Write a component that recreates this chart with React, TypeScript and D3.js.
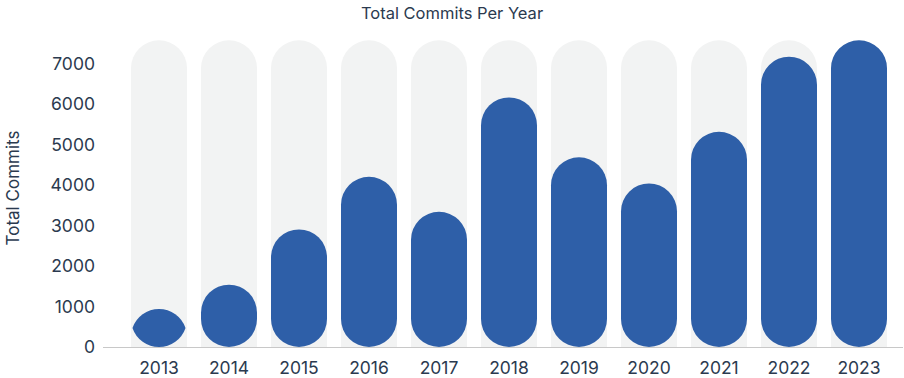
import React from "react";
import * as d3 from "d3";

const years = ["2013", "2014", "2015", "2016", "2017", "2018", "2019", "2020", "2021", "2022", "2023"];
const commits = [940, 1540, 2905, 4205, 3340, 6165, 4685, 4040, 5315, 7170, 7575];
const yTicks = [0, 1000, 2000, 3000, 4000, 5000, 6000, 7000];

const W = 904;
const H = 378;
const FONT = "Inter, 'DejaVu Sans', sans-serif";
const TEXT = "#2b3a4f";

function barPath(x: number, w: number, top: number, bottom: number): string {
  const r = w / 2;
  const h = bottom - top;
  const cx = x + r;
  if (h <= 0) return "";
  if (h >= w) {
    return `M${x},${bottom - r}L${x},${top + r}A${r},${r} 0 0 1 ${x + w},${top + r}L${x + w},${bottom - r}A${r},${r} 0 0 1 ${x},${bottom - r}Z`;
  }
  const my = (top + bottom) / 2;
  const d = r - h / 2;
  const hw = Math.sqrt(r * r - d * d);
  return `M${cx - hw},${my}A${r},${r} 0 0 1 ${cx + hw},${my}A${r},${r} 0 0 1 ${cx - hw},${my}Z`;
}

export default function App() {
  const left = 124;
  const right = 894;
  const top = 40.3;
  const bottom = 347;
  const yMax = d3.max(commits) as number;
  const x = d3.scaleBand<string>().domain(years).range([left, right]).paddingInner(0.2).paddingOuter(0.1);
  const y = d3.scaleLinear().domain([0, yMax]).range([bottom, top]);
  const bw = 56;

  return (
    <svg width={W} height={H} style={{ position: "absolute", left: 0, top: 0 }} fontFamily={FONT}>
      <text x={452} y={19} textAnchor="middle" fontSize={16.5} fill={TEXT}>Total Commits Per Year</text>
      <text transform={`translate(19,188) rotate(-90)`} textAnchor="middle" fontSize={17} fill={TEXT}>Total Commits</text>
      {yTicks.map((t) => (
        <text key={t} x={95} y={y(t)} dy="0.36em" textAnchor="end" fontSize={17.5} fill={TEXT}>{t}</text>
      ))}
      {years.map((yr, i) => {
        const cx = (x(yr) as number) + x.bandwidth() / 2;
        const bx = cx - bw / 2;
        return (
          <g key={yr}>
            <path d={`M${bx},${bottom}L${bx},${top + bw / 2}A${bw / 2},${bw / 2} 0 0 1 ${bx + bw},${top + bw / 2}L${bx + bw},${bottom}Z`} fill="#f2f3f3" />
            <path d={barPath(bx, bw, y(commits[i]), bottom)} fill="#2e5fa8" />
            <text x={cx} y={368} dy="0.36em" textAnchor="middle" fontSize={17.5} fill={TEXT}>{yr}</text>
          </g>
        );
      })}
      <line x1={103} x2={903} y1={347.5} y2={347.5} stroke="#c8c8c8" strokeWidth={1} />
    </svg>
  );
}
